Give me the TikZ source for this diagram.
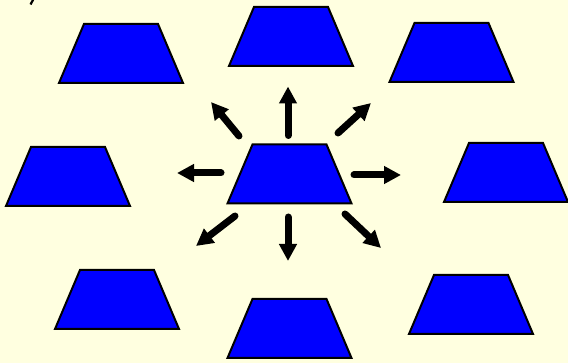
\documentclass[tikz,border=0pt]{standalone}
\usetikzlibrary{calc,arrows.meta}
\definecolor{bgyellow}{RGB}{255,255,224}
\definecolor{trapblue}{RGB}{0,0,255}
\begin{document}
\begin{tikzpicture}[x=1pt,y=-1pt,
  box/.style={rectangle, minimum width=124pt, minimum height=59pt, inner sep=0pt, outer sep=0pt},
  trapline/.style={fill=trapblue, draw=black, line width=2pt, line join=miter},
  arr/.style={line width=7pt, line cap=round, -{Triangle[length=17pt,width=17pt]}}]
\fill[bgyellow] (0,0) rectangle (568,363);
\useasboundingbox (0,0) rectangle (568,363);
\draw[line width=2.2pt] (33.5,-1) -- (30.5,4.5);
\foreach \n/\px/\py in {tl/121/53.5, tc/291/36.5, tr/451.5/52.5, ml/68/176.5, c/289.5/174,
  mr/506/172.5, bl/117/299.5, bc/289.5/328.5, br/471/304.5}{
  \node[box] (\n) at (\px,\py) {};
  \draw[trapline] (\n.south west) -- ($(\n.north west)+(25,0)$) -- ($(\n.north east)+(-25,0)$) -- (\n.south east) -- cycle;
}
\coordinate (uT) at (288,135.5); \coordinate (uH) at (288,86.5);
\coordinate (ulT) at (239,136); \coordinate (ulH) at (211,102);
\coordinate (urT) at (338,133); \coordinate (urH) at (371,103);
\coordinate (lT) at (221,173); \coordinate (lH) at (177,173);
\coordinate (rT) at (354,175); \coordinate (rH) at (401,175);
\coordinate (dlT) at (235,216); \coordinate (dlH) at (196,246);
\coordinate (dT) at (288,217); \coordinate (dH) at (288,261);
\coordinate (drT) at (345,214); \coordinate (drH) at (381,248);
\draw[arr] (uT) -- (uH);
\draw[arr] (ulT) -- (ulH);
\draw[arr] (urT) -- (urH);
\draw[arr] (lT) -- (lH);
\draw[arr] (rT) -- (rH);
\draw[arr] (dlT) -- (dlH);
\draw[arr] (dT) -- (dH);
\draw[arr] (drT) -- (drH);
\end{tikzpicture}
\end{document}
